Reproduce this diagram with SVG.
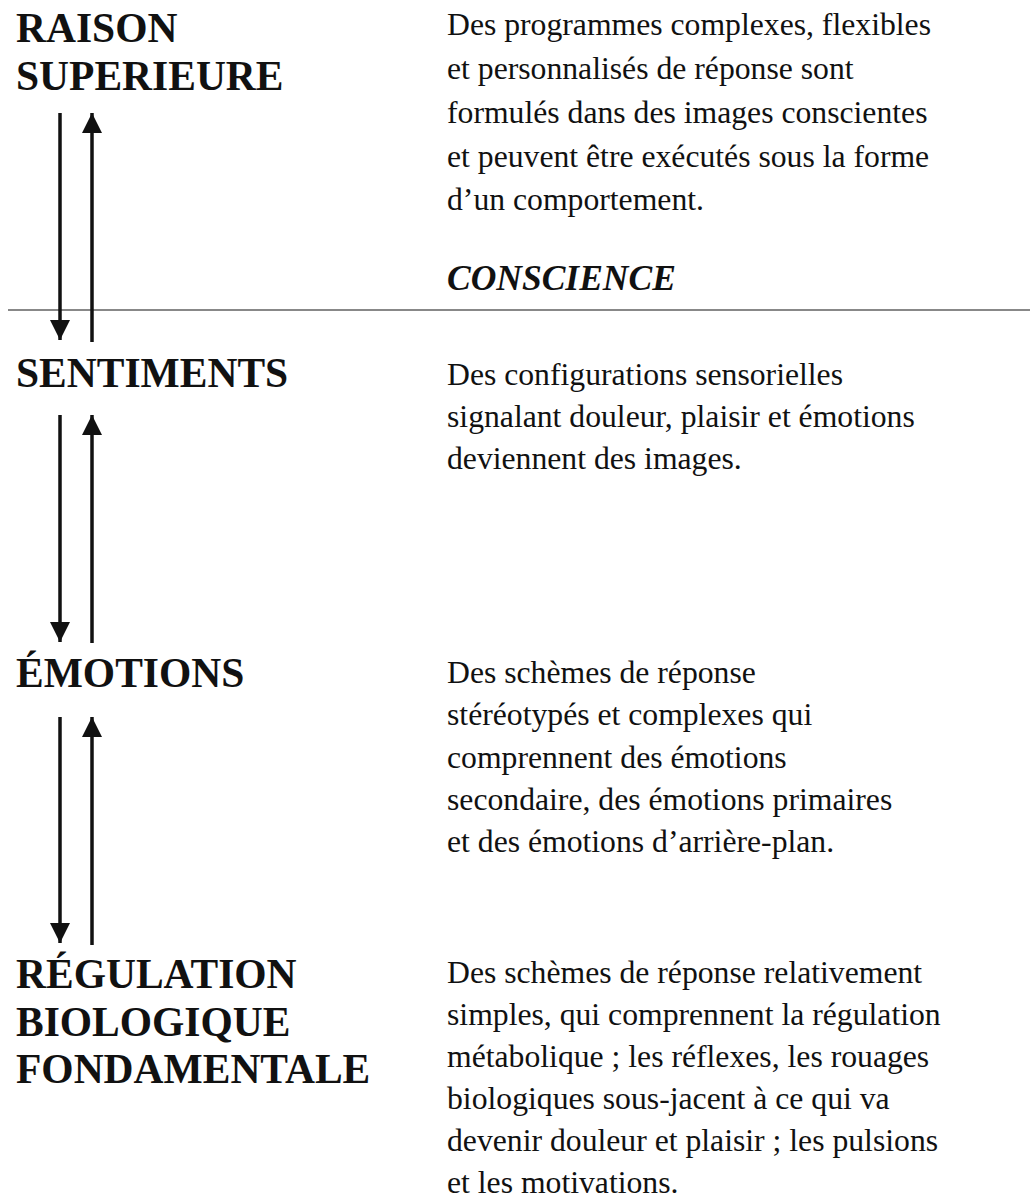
<svg xmlns="http://www.w3.org/2000/svg" width="1030" height="1200" viewBox="0 0 1030 1200">
<style>
.lbl{font-family:"Liberation Serif","Times New Roman",serif;font-weight:bold;font-size:41.5px;fill:#111}
.desc{font-family:"Liberation Serif","Times New Roman",serif;font-size:31.7px;fill:#111}
.it{font-family:"Liberation Serif","Times New Roman",serif;font-style:italic;font-weight:bold;font-size:35.5px;fill:#111}
.arr{stroke:#111;stroke-width:3.5;fill:none}
</style>
<defs>
<marker id="head" viewBox="0 0 22 20" refX="20" refY="10" markerWidth="22" markerHeight="20" markerUnits="userSpaceOnUse" orient="auto">
<path d="M0,0 L20,10 L0,20 Z" fill="#111"/>
</marker>
</defs>
<rect width="1030" height="1200" fill="#fff"/>
<line x1="8" y1="310" x2="1030" y2="310" stroke="#888" stroke-width="2"/>
<g id="raison">
<text class="lbl" x="16" y="42">RAISON</text>
<text class="lbl" x="16" y="90">SUPERIEURE</text>
<text class="desc" x="447" y="35">Des programmes complexes, flexibles</text>
<text class="desc" x="447" y="79">et personnalisés de réponse sont</text>
<text class="desc" x="447" y="123">formulés dans des images conscientes</text>
<text class="desc" x="447" y="167">et peuvent être exécutés sous la forme</text>
<text class="desc" x="447" y="210">d’un comportement.</text>
<text class="it" x="447" y="290">CONSCIENCE</text>
</g>
<g id="sentiments">
<text class="lbl" x="16" y="387">SENTIMENTS</text>
<text class="desc" x="447" y="385">Des configurations sensorielles</text>
<text class="desc" x="447" y="427">signalant douleur, plaisir et émotions</text>
<text class="desc" x="447" y="469">deviennent des images.</text>
</g>
<g id="emotions">
<text class="lbl" x="16" y="687">ÉMOTIONS</text>
<text class="desc" x="447" y="683">Des schèmes de réponse</text>
<text class="desc" x="447" y="725">stéréotypés et complexes qui</text>
<text class="desc" x="447" y="768">comprennent des émotions</text>
<text class="desc" x="447" y="810">secondaire, des émotions primaires</text>
<text class="desc" x="447" y="852">et des émotions d’arrière-plan.</text>
</g>
<g id="regulation">
<text class="lbl" x="16" y="988">RÉGULATION</text>
<text class="lbl" x="16" y="1036">BIOLOGIQUE</text>
<text class="lbl" x="16" y="1083">FONDAMENTALE</text>
<text class="desc" x="447" y="983">Des schèmes de réponse relativement</text>
<text class="desc" x="447" y="1025">simples, qui comprennent la régulation</text>
<text class="desc" x="447" y="1067">métabolique ; les réflexes, les rouages</text>
<text class="desc" x="447" y="1109">biologiques sous-jacent à ce qui va</text>
<text class="desc" x="447" y="1151">devenir douleur et plaisir ; les pulsions</text>
<text class="desc" x="447" y="1193">et les motivations.</text>
</g>
<g id="connectors">
<line class="arr" x1="60" y1="113" x2="60" y2="340" marker-end="url(#head)"/>
<line class="arr" x1="92" y1="342" x2="92" y2="113" marker-end="url(#head)"/>
<line class="arr" x1="60" y1="415" x2="60" y2="642" marker-end="url(#head)"/>
<line class="arr" x1="92" y1="643" x2="92" y2="415" marker-end="url(#head)"/>
<line class="arr" x1="60" y1="717" x2="60" y2="943" marker-end="url(#head)"/>
<line class="arr" x1="92" y1="945" x2="92" y2="717" marker-end="url(#head)"/>
</g>
</svg>
